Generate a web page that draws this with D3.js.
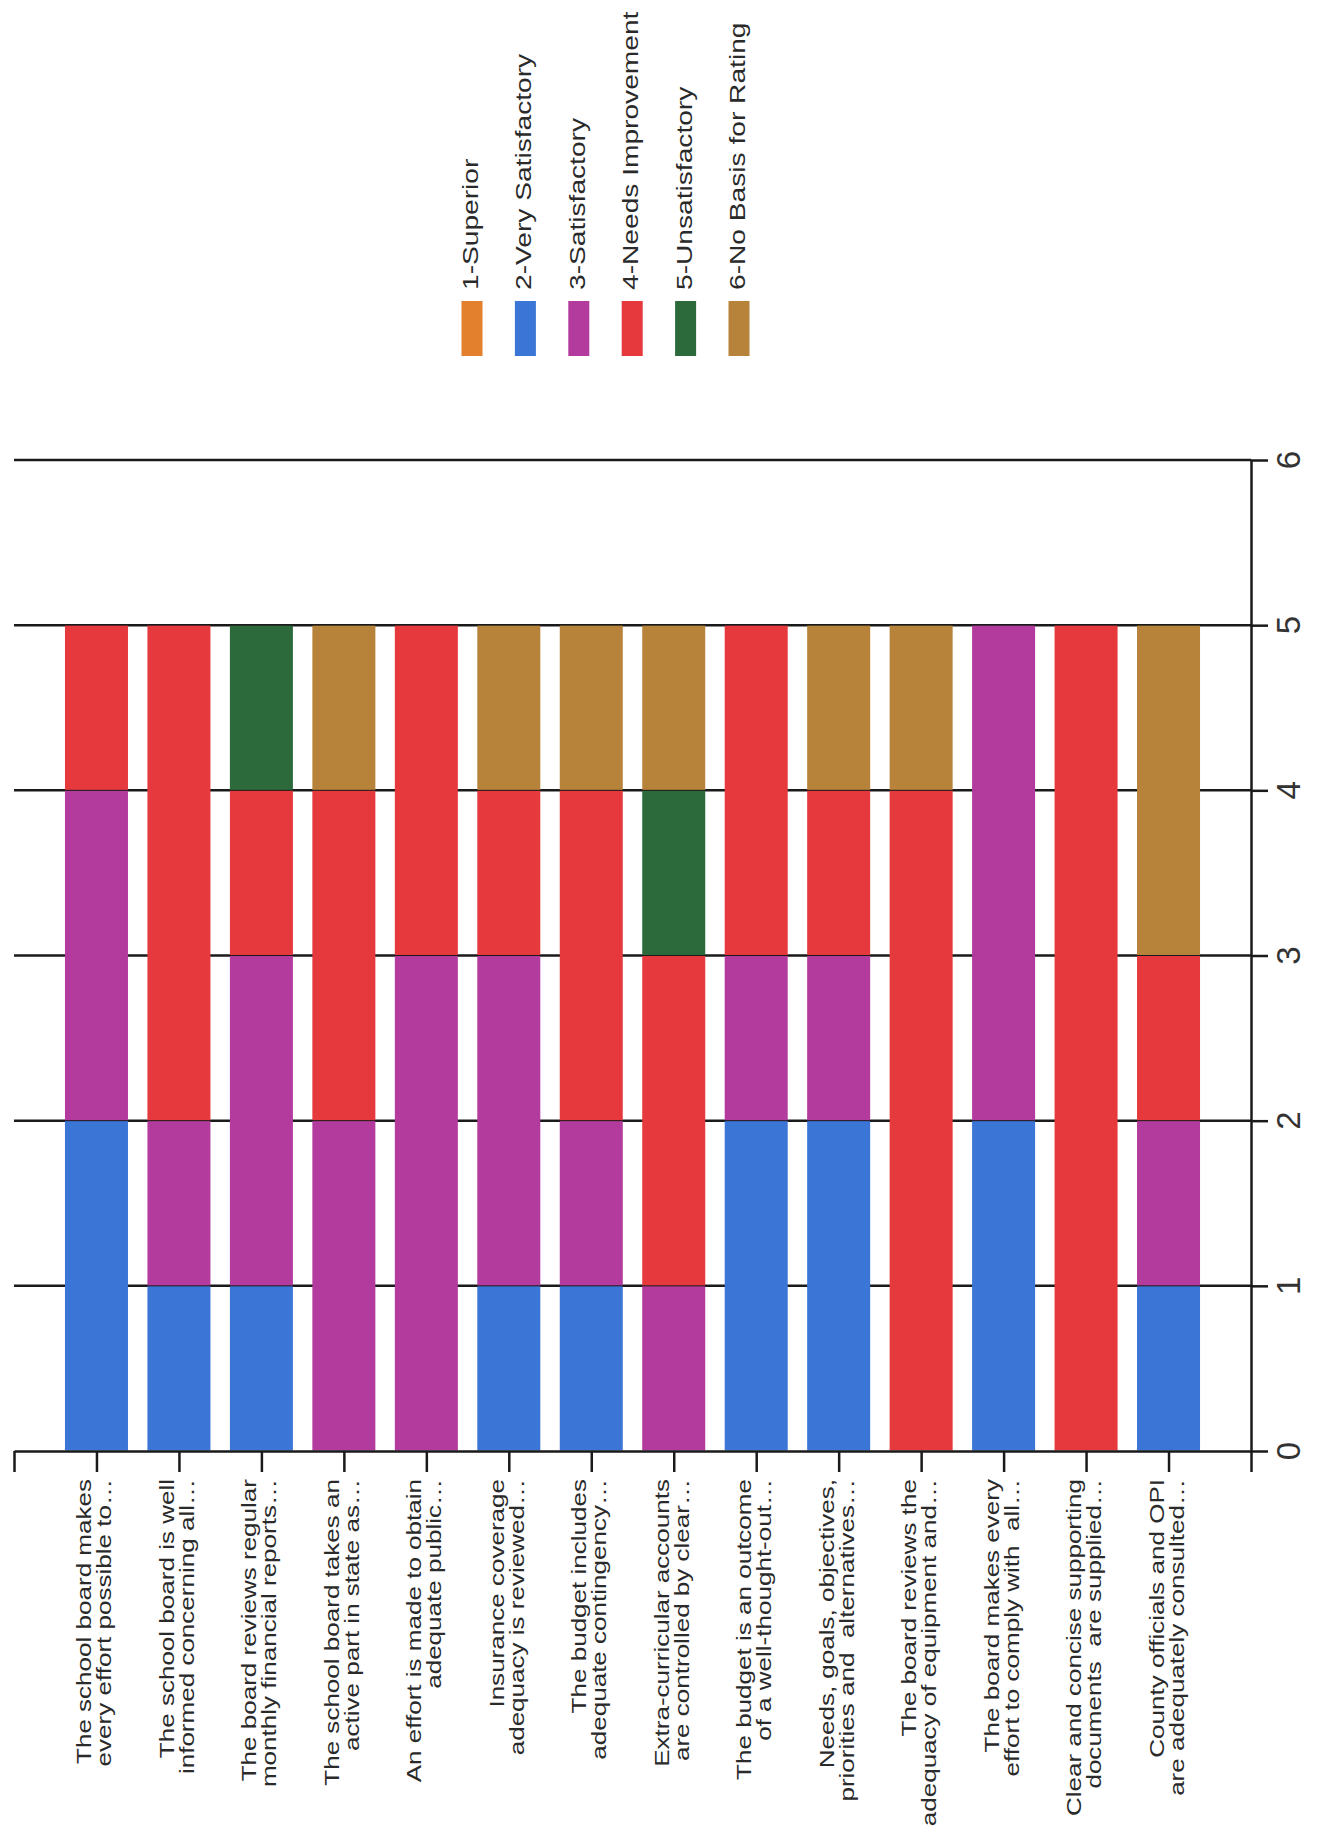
<!DOCTYPE html>
<html><head><meta charset="utf-8">
<script src="https://cdn.jsdelivr.net/npm/d3@7"></script>
<style>html,body{margin:0;padding:0;background:#fff;} svg{display:block;}</style>
</head><body>
<svg id="chart" width="1322" height="1830"></svg>
<script>
// ---- data ----
const categories = [
  "The school board makes\nevery effort possible to…",
  "The school board is well\ninformed concerning all…",
  "The board reviews regular\nmonthly financial reports…",
  "The school board takes an\nactive part in state as…",
  "An effort is made to obtain\nadequate public…",
  "Insurance coverage\nadequacy is reviewed…",
  "The budget includes\nadequate contingency…",
  "Extra-curricular accounts\nare controlled by clear…",
  "The budget is an outcome\nof a well-thought-out…",
  "Needs, goals, objectives,\npriorities and  alternatives…",
  "The board reviews the\nadequacy of equipment and…",
  "The board makes every\neffort to comply with  all…",
  "Clear and concise supporting\ndocuments  are supplied…",
  "County officials and OPI\nare adequately consulted…"
];
const seriesNames = ["1-Superior","2-Very Satisfactory","3-Satisfactory","4-Needs Improvement","5-Unsatisfactory","6-No Basis for Rating"];
const superior          = [0,0,0,0,0,0,0,0,0,0,0,0,0,0];
const verySatisfactory  = [2,1,1,0,0,1,1,0,2,2,0,2,0,1];
const satisfactory      = [2,1,2,2,3,2,1,1,1,1,0,3,0,1];
const needsImprovement  = [1,3,1,2,2,1,2,2,2,1,4,0,5,1];
const unsatisfactory    = [0,0,1,0,0,0,0,1,0,0,0,0,0,0];
const noBasis           = [0,0,0,1,0,1,1,1,0,1,1,0,0,2];
const valueTicks = [0,1,2,3,4,5,6];
const colors = ["#e2802e","#3b75d6","#b23b9d","#e5393d","#2c6a3b","#b7823a"];

// ---- build ----
const seriesValues = [superior, verySatisfactory, satisfactory, needsImprovement, unsatisfactory, noBasis];
const table = categories.map((c, i) => {
  const row = {idx: i};
  seriesNames.forEach((s, j) => row[s] = seriesValues[j][i]);
  return row;
});
const stacked = d3.stack().keys(seriesNames)(table);

const FONT = "'Liberation Sans', Arial, sans-serif";
const svg = d3.select("#chart");
svg.append("rect").attr("width", 1322).attr("height", 1830).attr("fill", "#fff");

const xLeft = 14, xRight = 1251;
const slot = d3.scaleLinear().domain([0, 15]).range([xLeft, xRight]);
const x = d3.scaleBand().domain(d3.range(categories.length))
  .range([slot(0.5), slot(14.5)]).paddingInner(0.236).paddingOuter(0.118);
const y = d3.scaleLinear().domain([0, 6]).range([1451, 460]);

// gridlines
svg.append("g").selectAll("line").data(valueTicks.filter(v => v > 0)).join("line")
  .attr("x1", xLeft).attr("x2", xRight)
  .attr("y1", d => y(d)).attr("y2", d => y(d))
  .attr("stroke", "#1a1a1a").attr("stroke-width", 2.5);

// bars
svg.append("g").selectAll("g").data(stacked).join("g")
  .attr("fill", (d, j) => colors[j])
  .selectAll("rect").data(d => d.filter(s => s[1] > s[0])).join("rect")
  .attr("x", d => x(d.data.idx))
  .attr("width", x.bandwidth())
  .attr("y", d => y(d[1]) + 0.5)
  .attr("height", d => y(d[0]) - y(d[1]) - 1);

// category axis
const catAxis = svg.append("g").attr("transform", `translate(0,${y(0)})`)
  .call(d3.axisBottom(slot).tickValues(d3.range(16)).tickSize(21).tickSizeOuter(0).tickFormat(""));
catAxis.selectAll("path,line").attr("stroke", "#1a1a1a").attr("stroke-width", 2.5);

// value axis
const valAxis = svg.append("g").attr("transform", `translate(${xRight},0)`)
  .call(d3.axisRight(y).tickValues(valueTicks).tickSize(17).tickSizeOuter(0).tickFormat(""));
valAxis.selectAll("path,line").attr("stroke", "#1a1a1a").attr("stroke-width", 2.5);

// value tick labels (rotated)
svg.append("g").selectAll("text").data(valueTicks).join("text")
  .attr("transform", d => `translate(1300,${y(d)}) rotate(-90)`)
  .attr("text-anchor", "middle")
  .attr("font-family", FONT).attr("font-size", 33).attr("fill", "#333")
  .text(d => d);

// category labels (rotated, two lines)
const labG = svg.append("g");
categories.forEach((c, i) => {
  const cx = x(i) + x.bandwidth() / 2;
  const lines = c.split("\n");
  lines.forEach((ln, k) => {
    labG.append("text")
      .attr("transform", `translate(${cx + (k === 0 ? -5 : 15)},1479) rotate(-90) scale(1.24,1)`)
      .attr("text-anchor", "end")
      .attr("font-family", FONT).attr("font-size", 21).attr("fill", "#2a2a2a")
      .attr("xml:space", "preserve").style("white-space", "pre")
      .text(ln);
  });
});

// legend
const leg = svg.append("g");
seriesNames.forEach((s, j) => {
  const cx = 472 + j * 53.4;
  leg.append("rect").attr("x", cx - 10.5).attr("y", 301).attr("width", 21).attr("height", 55)
    .attr("fill", colors[j]);
  leg.append("text")
    .attr("transform", `translate(${cx + 6},290) rotate(-90) scale(1.28,1)`)
    .attr("text-anchor", "start")
    .attr("font-family", FONT).attr("font-size", 22).attr("fill", "#2a2a2a")
    .text(s);
});
</script>
</body></html>
